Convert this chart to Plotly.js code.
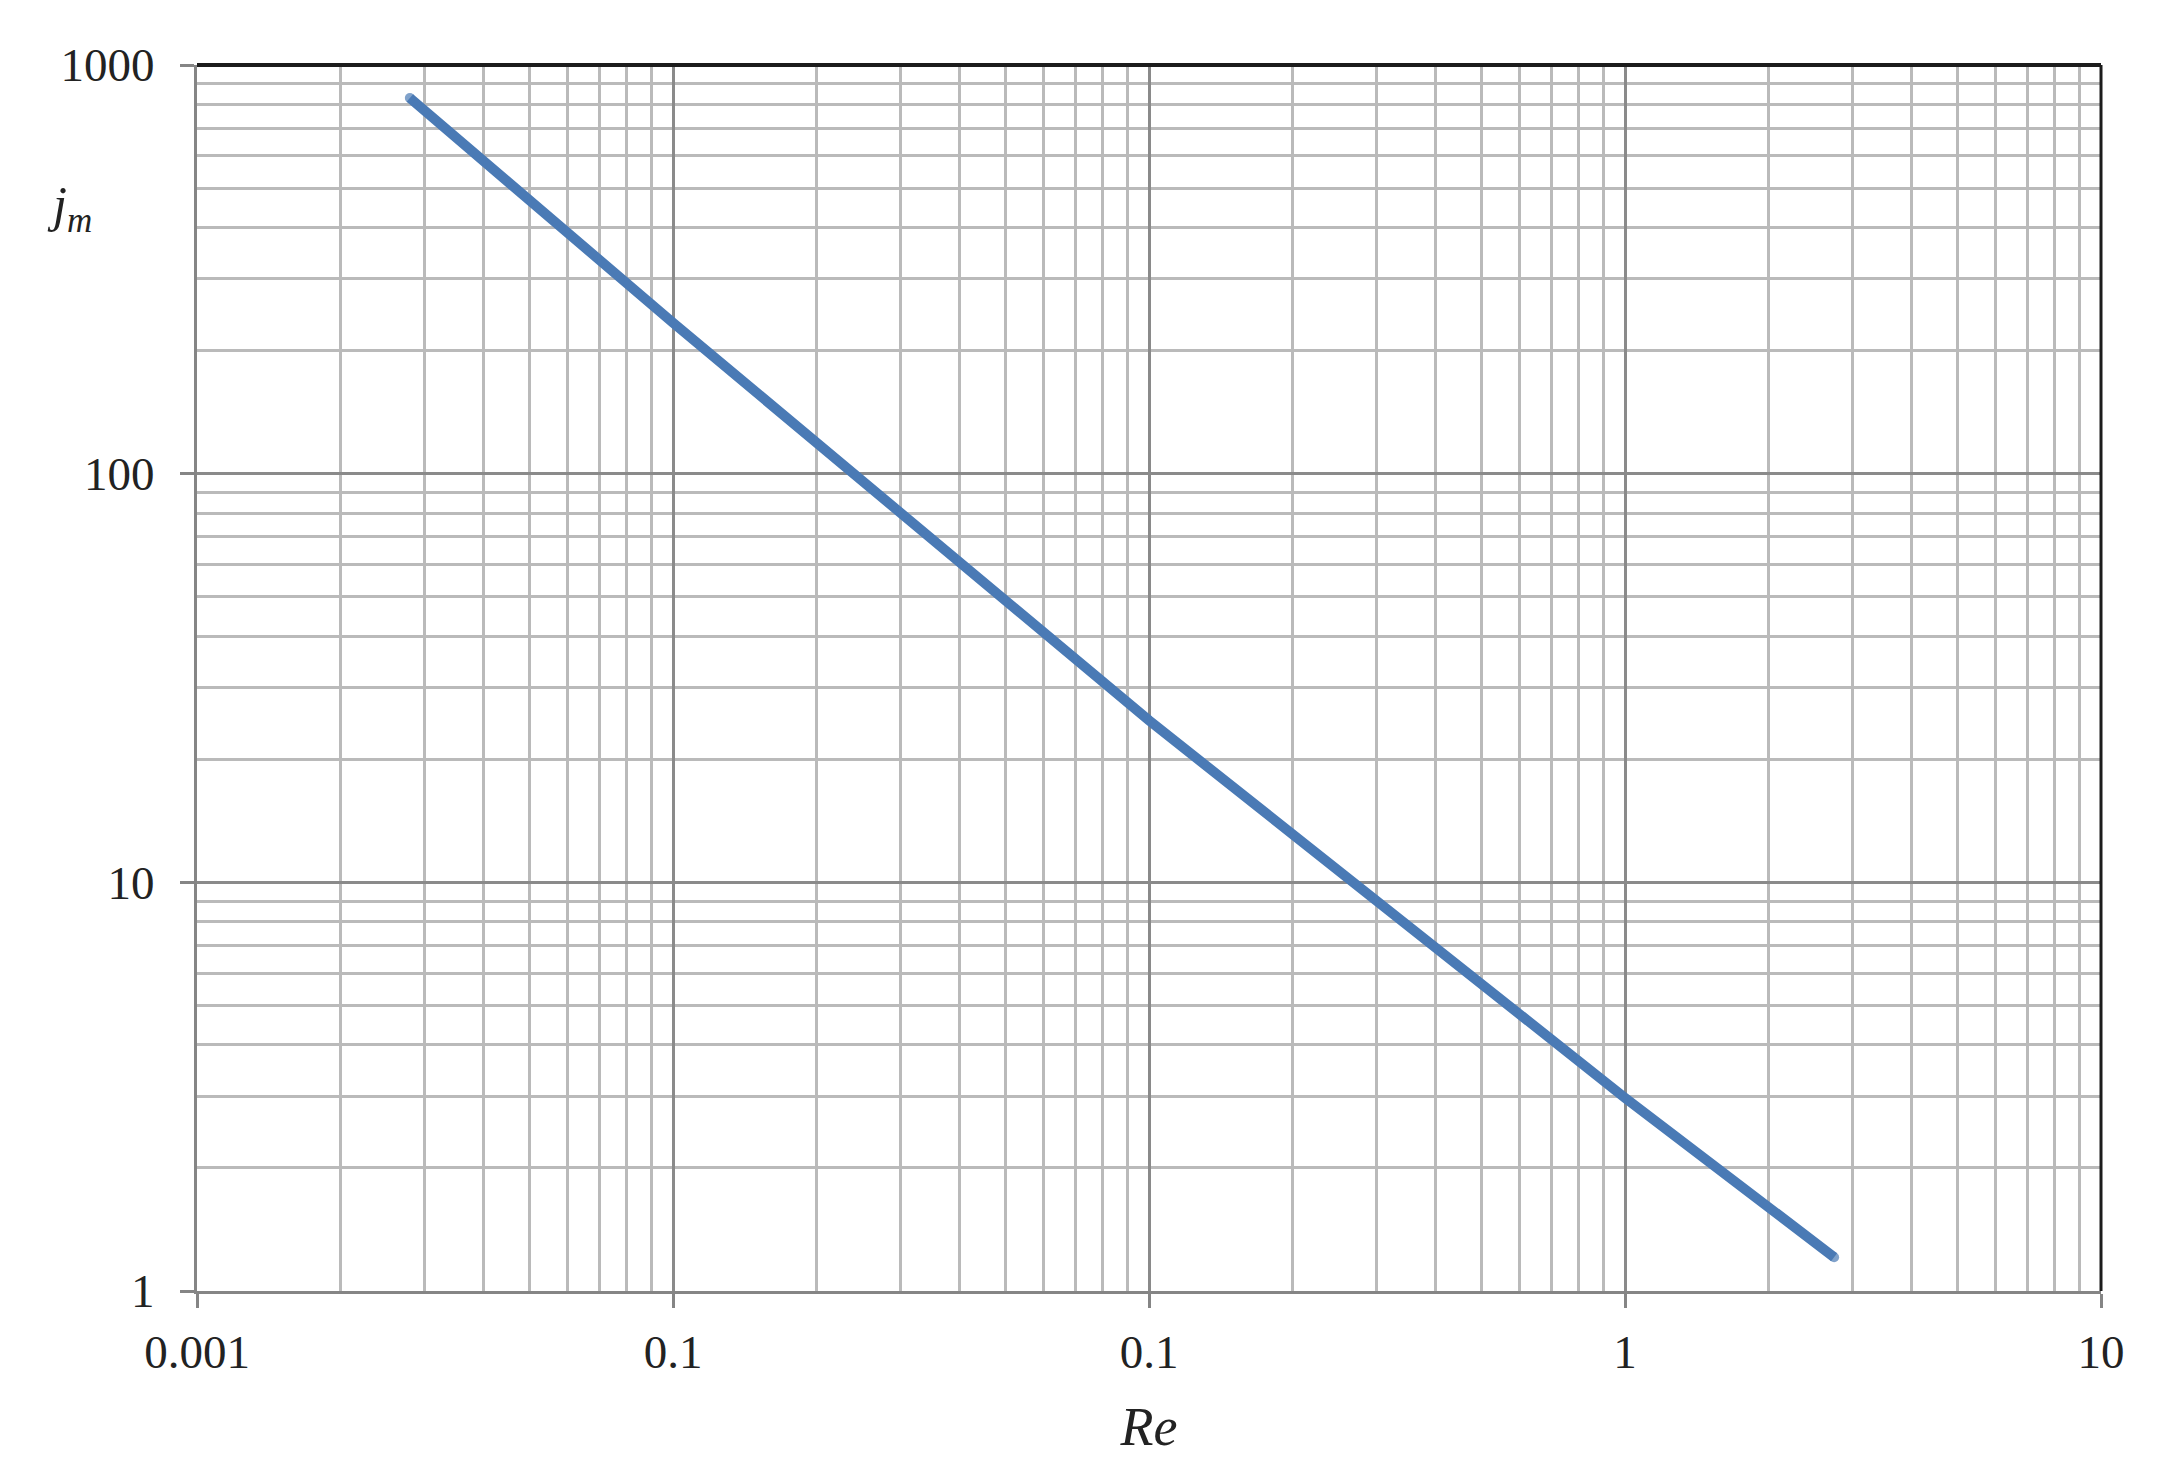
<!DOCTYPE html>
<html>
<head>
<meta charset="utf-8">
<script src="https://cdn.plot.ly/plotly-3.0.1.min.js"></script>
<style>html,body{margin:0;padding:0;background:#fff;}#chart{width:2182px;height:1481px;}</style>
</head>
<body>
<div id="chart"></div>
<script>
// Data
const reValues = [0.0028, 0.01, 0.1, 1, 2.75];
const jmValues = [830, 234, 24.9, 2.97, 1.21];

// Axis tick values and labels (labels reproduced as printed)
const xTickVals = [0.001, 0.01, 0.1, 1, 10];
const xTickText = ['0.001', '0.1', '0.1', '1', '10'];
const yTickVals = [1, 10, 100, 1000];
const yTickText = ['1', '10', '100', '1000'];

const n = reValues.length;
const lineWidth = 10;
const capSizes = reValues.map((_, i) => (i === 0 || i === n - 1) ? lineWidth : 0);

const lineColor = '#4a7ab5';
const majorGrid = '#8a8a8a';
const minorGrid = '#bababa';
const axisGray = '#858585';
const serif = 'Liberation Serif, Times New Roman, serif';
const tickFont = {family: serif, size: 47, color: '#222'};

const trace = {
  x: reValues,
  y: jmValues,
  type: 'scatter',
  mode: 'lines+markers',
  line: {color: lineColor, width: lineWidth},
  marker: {color: lineColor, size: capSizes, line: {width: 0}},
  hoverinfo: 'x+y',
  showlegend: false
};

const commonAxis = {
  type: 'log',
  tickmode: 'array',
  ticks: 'outside',
  ticklen: 14,
  tickwidth: 3,
  tickcolor: axisGray,
  showline: true,
  linecolor: axisGray,
  linewidth: 3,
  showgrid: true,
  gridcolor: majorGrid,
  gridwidth: 3,
  zeroline: false,
  tickfont: tickFont,
  minor: {dtick: 'D1', showgrid: true, gridcolor: minorGrid, gridwidth: 3, ticks: ''}
};

const layout = {
  width: 2182,
  height: 1481,
  paper_bgcolor: '#ffffff',
  plot_bgcolor: '#ffffff',
  margin: {l: 197, r: 81, t: 65, b: 190},
  xaxis: Object.assign({}, commonAxis, {
    range: [-3, 1],
    tickvals: xTickVals,
    ticktext: xTickText,
    ticklabelstandoff: 4,
    title: {text: '<i>Re</i>', font: {family: serif, size: 54, color: '#222'}, standoff: 30}
  }),
  yaxis: Object.assign({}, commonAxis, {
    range: [0, 3],
    tickvals: yTickVals,
    ticktext: yTickText,
    ticklabelstandoff: 16
  }),
  shapes: [
    {type: 'line', xref: 'paper', yref: 'paper', x0: 0, x1: 1, y0: 1, y1: 1, line: {color: '#1c1c1c', width: 4}},
    {type: 'line', xref: 'paper', yref: 'paper', x0: 1, x1: 1, y0: 0, y1: 1, line: {color: '#1c1c1c', width: 3}}
  ],
  annotations: [
    {text: '<i>j</i><sub><i>m</i></sub>', xref: 'paper', yref: 'paper', x: -0.067, y: 0.883,
     xanchor: 'center', yanchor: 'middle', showarrow: false,
     font: {family: serif, size: 50, color: '#222'}}
  ]
};

Plotly.newPlot('chart', [trace], layout, {displayModeBar: false, staticPlot: true});
</script>
</body>
</html>
